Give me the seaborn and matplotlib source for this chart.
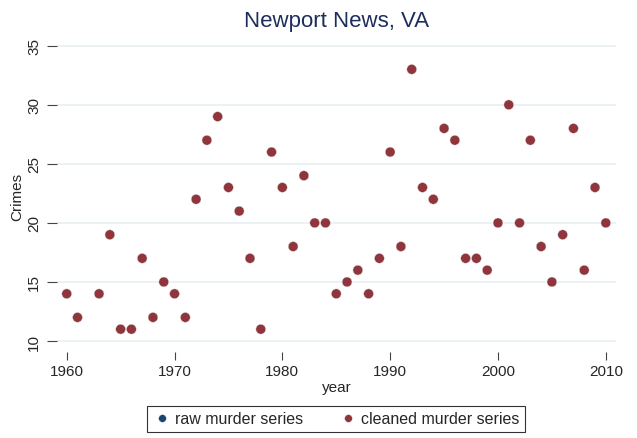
import numpy as np
import pandas as pd
import matplotlib.pyplot as plt
import seaborn as sns

# data
years = [1960, 1961, 1963, 1964, 1965, 1966, 1967, 1968, 1969, 1970,
         1971, 1972, 1973, 1974, 1975, 1976, 1977, 1978, 1979, 1980,
         1981, 1982, 1983, 1984, 1985, 1986, 1987, 1988, 1989, 1990,
         1991, 1992, 1993, 1994, 1995, 1996, 1997, 1998, 1999, 2000,
         2001, 2002, 2003, 2004, 2005, 2006, 2007, 2008, 2009, 2010]
raw_murders = [14, 12, 14, 19, 11, 11, 17, 12, 15, 14,
               12, 22, 27, 29, 23, 21, 17, 11, 26, 23,
               18, 24, 20, 20, 14, 15, 16, 14, 17, 26,
               18, 33, 23, 22, 28, 27, 17, 17, 16, 20,
               30, 20, 27, 18, 15, 19, 28, 16, 23, 20]
cleaned_murders = list(raw_murders)
series_names = ['raw murder series', 'cleaned murder series']
x_ticks = [1960, 1970, 1980, 1990, 2000, 2010]
y_ticks = [10, 15, 20, 25, 30, 35]

df = pd.concat([
    pd.DataFrame({'year': years, 'Crimes': raw_murders, 'series': series_names[0]}),
    pd.DataFrame({'year': years, 'Crimes': cleaned_murders, 'series': series_names[1]}),
])

sns.set_style('white')
plt.rcParams['font.family'] = ['Liberation Sans', 'DejaVu Sans']

fig = plt.figure(figsize=(6.37, 4.39), dpi=100)
ax = fig.add_axes([0.0895, 0.1959, 0.8776, 0.713])

palette = {series_names[0]: '#1a476f', series_names[1]: '#90353b'}
sns.scatterplot(data=df, x='year', y='Crimes', hue='series', palette=palette,
                s=50, edgecolor='white', linewidth=0.3, ax=ax, zorder=3)

ax.set_xlim(1959.1, 2010.95)
ax.set_ylim(9.07, 35.57)
ax.set_xticks(x_ticks)
ax.set_yticks(y_ticks)
ax.yaxis.grid(True, color='#e8f0f2', lw=1.2)
ax.xaxis.grid(False)
for sp in ax.spines.values():
    sp.set_visible(False)
ax.tick_params(axis='both', direction='out', width=0.8, color='#444444',
               labelsize=11, bottom=True, left=True)
ax.tick_params(axis='x', length=6, pad=3)
ax.tick_params(axis='y', length=7, pad=4.5)
for lbl in ax.get_yticklabels():
    lbl.set_rotation(90)
    lbl.set_va('center')
ax.set_xlabel('year', fontsize=11, labelpad=1)
ax.set_ylabel('Crimes', fontsize=11, labelpad=2)
ax.set_title('Newport News, VA', fontsize=16, color='#1e2d5c', pad=9)

ax.legend_.remove()
handles, labels = ax.get_legend_handles_labels()
leg = fig.legend(handles, labels, loc='center', bbox_to_anchor=(0.5275, 0.0433),
                 ncol=2, frameon=True, fancybox=False, fontsize=11.5,
                 markerscale=0.8, handletextpad=0.2, handlelength=1.2,
                 columnspacing=2.2, borderpad=0.35)
leg.get_frame().set_edgecolor('black')
leg.get_frame().set_linewidth(0.8)

fig.savefig('out.png', dpi=100)
